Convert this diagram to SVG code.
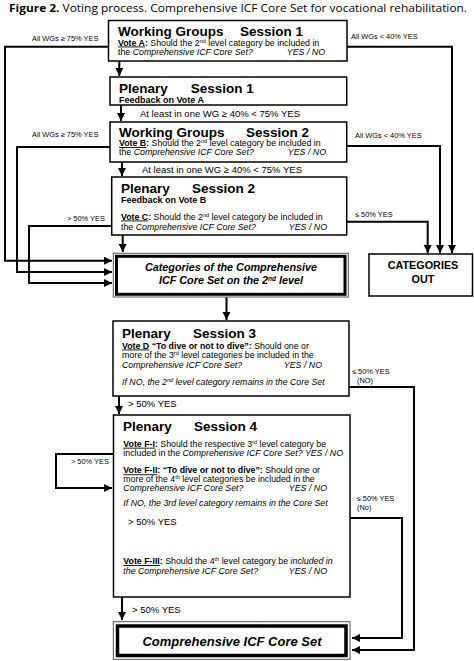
<svg xmlns="http://www.w3.org/2000/svg" width="474" height="661" viewBox="0 0 474 661">
<style>
text{font-family:"Liberation Sans",Arial,sans-serif;fill:#000}
.box{fill:#fff;stroke:#000;stroke-width:1.5}
.ln{fill:none;stroke:#000;stroke-width:2}
.h{font-size:13.5px;font-weight:bold}
.t{font-size:8.8px}
.fb{font-size:9px;font-weight:bold}
.lab{font-size:7.4px}
.mid{font-size:9.5px}
.b{font-weight:bold}
.u{text-decoration:underline}
.i{font-style:italic}
.big{font-size:10.8px;font-weight:bold;font-style:italic}
</style>
<defs>
<marker id="ah" markerWidth="9" markerHeight="9" refX="8" refY="4" orient="auto" markerUnits="userSpaceOnUse"><path d="M0,0 L8,4 L0,8 z" fill="#000"/></marker>
</defs>
<rect width="474" height="661" fill="#fff"/>
<text x="9" y="12" style="font-family:'Open Sans',sans-serif;font-size:10.5px" textLength="458" lengthAdjust="spacingAndGlyphs"><tspan font-weight="bold">Figure 2.</tspan> Voting process. Comprehensive ICF Core Set for vocational rehabilitation.</text>

<g id="connectors">
<path class="ln" d="M119.3,61 V76" marker-end="url(#ah)"/>
<path class="ln" d="M121,105 V121" marker-end="url(#ah)"/>
<path class="ln" d="M122,162 V176" marker-end="url(#ah)"/>
<path class="ln" d="M122.7,235 V252" marker-end="url(#ah)"/>
<path class="ln" d="M108.5,46.7 H5 V260.7 H112" marker-end="url(#ah)"/>
<path class="ln" d="M110,147 H17 V272 H112" marker-end="url(#ah)"/>
<path class="ln" d="M112,226 H29 V283 H112" marker-end="url(#ah)"/>
<path class="ln" d="M347,46.7 H452 V253" marker-end="url(#ah)"/>
<path class="ln" d="M347,146 H440 V253" marker-end="url(#ah)"/>
<path class="ln" d="M347,221.7 H427.7 V253" marker-end="url(#ah)"/>
<path class="ln" d="M226.5,297 V320" marker-end="url(#ah)"/>
<path class="ln" d="M119,396 V414" marker-end="url(#ah)"/>
<path class="ln" d="M113.5,454 H56 V488 H112" marker-end="url(#ah)"/>
<path class="ln" d="M349,387 H414 V650 H352" marker-end="url(#ah)"/>
<path class="ln" d="M350,518 H402 V638 H352" marker-end="url(#ah)"/>
<path class="ln" d="M122,597 V620" marker-end="url(#ah)"/>
<text class="lab" x="32" y="40.5">All WGs ≥ 75% YES</text>
<text class="lab" x="351" y="39">All WGs &lt; 40% YES</text>
<text class="lab" x="32" y="137">All WGs ≥ 75% YES</text>
<text class="lab" x="355" y="138">All WGs &lt; 40% YES</text>
<text class="lab" x="67" y="220.5">&gt; 50% YES</text>
<text class="lab" x="355" y="217.3">≤ 50% YES</text>
<text class="mid" x="140" y="117">At least in one WG ≥ 40% &lt; 75% YES</text>
<text class="mid" x="142" y="173.3">At least in one WG ≥ 40% &lt; 75% YES</text>
<text class="lab" x="352" y="374">≤ 50% YES</text>
<text class="lab" x="357" y="382.5">(NO)</text>
<text class="mid" x="128" y="407">&gt; 50% YES</text>
<text class="lab" x="71" y="464">&gt; 50% YES</text>
<text class="lab" x="356.7" y="500.7">≤ 50% YES</text>
<text class="lab" x="357" y="510">(No)</text>
<text class="mid" x="132" y="612.5">&gt; 50% YES</text>
</g>

<g id="wg1">
<rect class="box" x="108.5" y="20.5" width="238.5" height="40.5"/>
<text class="h" x="118" y="35.5">Working Groups</text>
<text class="h" x="240" y="35.5">Session 1</text>
<text class="t" x="118" y="45.5"><tspan class="b u">Vote A</tspan><tspan class="b">:</tspan> Should the 2<tspan font-size="5.5" dy="-3">nd</tspan><tspan dy="3"> level category be included in</tspan></text>
<text class="t" x="118" y="54.5">the <tspan class="i">Comprehensive ICF Core Set?</tspan></text>
<text class="t i" x="325" y="54.5" text-anchor="end">YES / NO</text>
</g>

<g id="pl1">
<rect class="box" x="110" y="77" width="236.7" height="28"/>
<text class="h" x="119" y="92.7">Plenary</text>
<text class="h" x="190.7" y="92.7">Session 1</text>
<text class="fb" x="119" y="102.7">Feedback on Vote A</text>
</g>

<g id="wg2">
<rect class="box" x="110" y="122" width="236.7" height="40"/>
<text class="h" x="119" y="136.5">Working Groups</text>
<text class="h" x="246" y="136.5">Session 2</text>
<text class="t" x="119" y="146"><tspan class="b u">Vote B</tspan><tspan class="b">:</tspan> Should the 2<tspan font-size="5.5" dy="-3">nd</tspan><tspan dy="3"> level category be included in</tspan></text>
<text class="t" x="119" y="155">the <tspan class="i">Comprehensive ICF Core Set?</tspan></text>
<text class="t i" x="326" y="155" text-anchor="end">YES / NO</text>
</g>

<g id="pl2">
<rect class="box" x="111.7" y="177" width="235" height="58"/>
<text class="h" x="121" y="192.7">Plenary</text>
<text class="h" x="192" y="192.7">Session 2</text>
<text class="fb" x="121" y="202.5">Feedback on Vote B</text>
<text class="t" x="121" y="219.5"><tspan class="b u">Vote C</tspan><tspan class="b">:</tspan> Should the 2<tspan font-size="5.5" dy="-3">nd</tspan><tspan dy="3"> level category be included in</tspan></text>
<text class="t" x="121" y="229.5">the <tspan class="i">Comprehensive ICF Core Set?</tspan></text>
<text class="t i" x="327" y="229.5" text-anchor="end">YES / NO</text>
</g>

<g id="cats2">
<rect x="113.3" y="253.3" width="235" height="43.7" fill="#fff" stroke="#555" stroke-width="1"/>
<rect x="116.5" y="256.3" width="228.5" height="38" fill="none" stroke="#000" stroke-width="3"/>
<text class="big" x="231" y="271" text-anchor="middle">Categories of the Comprehensive</text>
<text class="big" x="231" y="284" text-anchor="middle">ICF Core Set on the 2<tspan font-size="6.5" dy="-3.5">nd</tspan><tspan dy="3.5"> level</tspan></text>
</g>

<g id="catout">
<rect class="box" x="369" y="254" width="103.5" height="42"/>
<text x="423" y="268.5" text-anchor="middle" style="font-size:10.8px;font-weight:bold">CATEGORIES</text>
<text x="423" y="282.5" text-anchor="middle" style="font-size:10.8px;font-weight:bold">OUT</text>
</g>

<g id="pl3">
<rect class="box" x="113" y="321" width="236" height="75"/>
<text class="h" x="122" y="337.5">Plenary</text>
<text class="h" x="193" y="337.5">Session 3</text>
<text class="t" x="122" y="348.5"><tspan class="b u">Vote D</tspan><tspan class="b"> “To dive or not to dive”:</tspan> Should one or</text>
<text class="t" x="122" y="358">more of the 3<tspan font-size="5.5" dy="-3">rd</tspan><tspan dy="3"> level categories be included in the</tspan></text>
<text class="t i" x="122" y="367.5">Comprehensive ICF Core Set?</text>
<text class="t i" x="322" y="367.5" text-anchor="end">YES / NO</text>
<text class="t i" x="122" y="384.5">If NO, the 2<tspan font-size="5.5" dy="-3">nd</tspan><tspan dy="3"> level category remains in the Core Set</tspan></text>
</g>

<g id="pl4">
<rect class="box" x="113.5" y="415" width="236.5" height="182"/>
<text class="h" x="123" y="431">Plenary</text>
<text class="h" x="194" y="431">Session 4</text>
<text class="t" x="123.3" y="446.7"><tspan class="b u">Vote F-I</tspan><tspan class="b">:</tspan> Should the respective 3<tspan font-size="5.5" dy="-3">rd</tspan><tspan dy="3"> level category be</tspan></text>
<text class="t" x="123.3" y="456">included in the <tspan class="i">Comprehensive ICF Core Set? YES / NO</tspan></text>
<text class="t" x="123.3" y="473.3"><tspan class="b u">Vote F-II</tspan><tspan class="b">: “To dive or not to dive”:</tspan> Should one or</text>
<text class="t" x="123.3" y="482">more of the 4<tspan font-size="5.5" dy="-3">th</tspan><tspan dy="3"> level categories be included in the</tspan></text>
<text class="t i" x="123.3" y="491">Comprehensive ICF Core Set?</text>
<text class="t i" x="327" y="491" text-anchor="end">YES / NO</text>
<text class="t i" x="123.3" y="506">If NO, the 3rd level category remains in the Core Set</text>
<text class="mid" x="128" y="524.5">&gt; 50% YES</text>
<text class="t" x="123.3" y="564"><tspan class="b u">Vote F-III</tspan><tspan class="b">:</tspan> Should the 4<tspan font-size="5.5" dy="-3">th</tspan><tspan dy="3"> level category be </tspan><tspan class="i">included in</tspan></text>
<text class="t i" x="123.3" y="574">the Comprehensive ICF Core Set?</text>
<text class="t i" x="327" y="574" text-anchor="end">YES / NO</text>
</g>

<g id="core">
<rect x="113.3" y="621.7" width="236.7" height="37.6" fill="#fff" stroke="#555" stroke-width="1"/>
<rect x="117.5" y="626" width="228.5" height="29.5" fill="none" stroke="#000" stroke-width="3.5"/>
<text x="232" y="646" text-anchor="middle" style="font-size:13px;font-weight:bold;font-style:italic">Comprehensive ICF Core Set</text>
</g>
</svg>
